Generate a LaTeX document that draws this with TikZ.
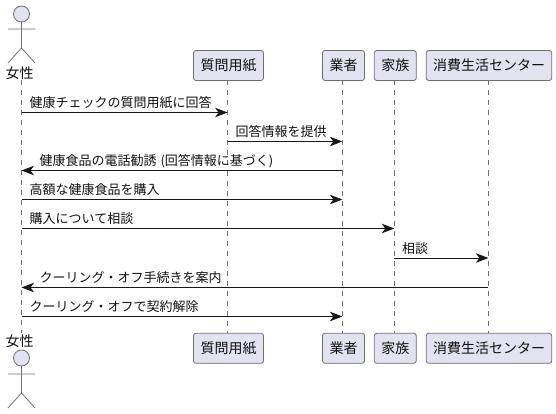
\documentclass[tikz,border=0pt]{standalone}
\usepackage{fontspec}
\setmainfont{Noto Sans CJK JP}
\usetikzlibrary{arrows.meta}
\definecolor{pbox}{HTML}{E2E2F0}
\definecolor{pline}{HTML}{6E6E6E}
\definecolor{ptext}{HTML}{111111}
\tikzset{
  partbox/.style={draw=pline,fill=pbox,line width=0.8pt,rounded corners=2.5pt,minimum height=30pt,inner sep=0pt,text=ptext,font=\fontsize{14}{16}\selectfont},
  lifeline/.style={draw=pline,line width=0.7pt,dash pattern=on 5pt off 5pt},
  stick/.style={draw=pline,line width=0.8pt},
  msg/.style={draw=black!90,line width=1pt,-{Stealth[length=12.5pt,width=9.5pt,inset=3.5pt]}},
  msglabel/.style={font=\fontsize{13}{15}\selectfont,text=ptext,anchor=base west,inner sep=0pt},
  actorlabel/.style={font=\fontsize{14}{16}\selectfont,text=ptext,inner sep=0pt}
}
\begin{document}
\begin{tikzpicture}[x=1pt,y=-1pt]
\useasboundingbox (0,0) rectangle (556,414);
\node[partbox,minimum width=70pt] (q) at (228.5,65.5) {質問用紙};
\node[partbox,minimum width=42pt] (g) at (343.5,65.5) {業者};
\node[partbox,minimum width=42pt] (k) at (395.3,65.5) {家族};
\node[partbox,minimum width=125.4pt] (c) at (489,65.5) {消費生活センター};
\node[partbox,minimum width=70pt] (q2) at (228.5,348.3) {質問用紙};
\node[partbox,minimum width=42pt] (g2) at (343.5,348.3) {業者};
\node[partbox,minimum width=42pt] (k2) at (395.3,348.3) {家族};
\node[partbox,minimum width=125.4pt] (c2) at (489,348.3) {消費生活センター};
\coordinate (lw) at (21.5,80);
\coordinate (lwb) at (21.5,333);
\coordinate (lq) at (227.6,80.5);
\coordinate (lqb) at (227.6,333.3);
\coordinate (lg) at (342.4,80.5);
\coordinate (lgb) at (342.4,333.3);
\coordinate (lk) at (394.3,80.5);
\coordinate (lkb) at (394.3,333.3);
\coordinate (lc) at (488.4,80.5);
\coordinate (lcb) at (488.4,333.3);
\draw[lifeline] (lw) -- (lwb);
\draw[lifeline] (lq) -- (lqb);
\draw[lifeline] (lg) -- (lgb);
\draw[lifeline] (lk) -- (lkb);
\draw[lifeline] (lc) -- (lcb);
% actors
\node[actorlabel] (w1) at (19.5,73) {女性};
\node[actorlabel] (w2) at (19.5,341.5) {女性};
\draw[stick,fill=pbox] (21.5,14) circle (8);
\draw[stick] (21.5,22) -- (21.5,48) (8,29) -- (35,29) (8,63) -- (21.5,48) -- (35,63);
\draw[stick,fill=pbox] (21.5,358) circle (8);
\draw[stick] (21.5,366) -- (21.5,393) (8,374) -- (35,374) (8,408) -- (21.5,393) -- (35,408);
% messages
\foreach \n/\y in {1/112.5,2/141.5,3/170.5,4/199.5,5/228.5,6/258,7/287.5,8/316.5}{\coordinate (m\n) at (0,\y);}
\draw[msg] (lw|-m1) -- (lq|-m1);
\node[msglabel] (t1) at (29.5,107.7) {健康チェックの質問用紙に回答};
\draw[msg] (lq|-m2) -- (lg|-m2);
\node[msglabel] (t2) at (235.5,136.7) {回答情報を提供};
\draw[msg] (lg|-m3) -- (lw|-m3);
\node[msglabel] (t3) at (39.5,165.7) {健康食品の電話勧誘\hspace{1pt} (回答情報に基づく)};
\draw[msg] (lw|-m4) -- (lg|-m4);
\node[msglabel] (t4) at (29.5,194.7) {高額な健康食品を購入};
\draw[msg] (lw|-m5) -- (lk|-m5);
\node[msglabel] (t5) at (29.5,223.7) {購入について相談};
\draw[msg] (lk|-m6) -- (lc|-m6);
\node[msglabel] (t6) at (402,253) {相談};
\draw[msg] (lc|-m7) -- (lw|-m7);
\node[msglabel] (t7) at (39.5,282.7) {クーリング・オフ手続きを案内};
\draw[msg] (lw|-m8) -- (lg|-m8);
\node[msglabel] (t8) at (29.5,311.7) {クーリング・オフで契約解除};
\end{tikzpicture}
\end{document}
